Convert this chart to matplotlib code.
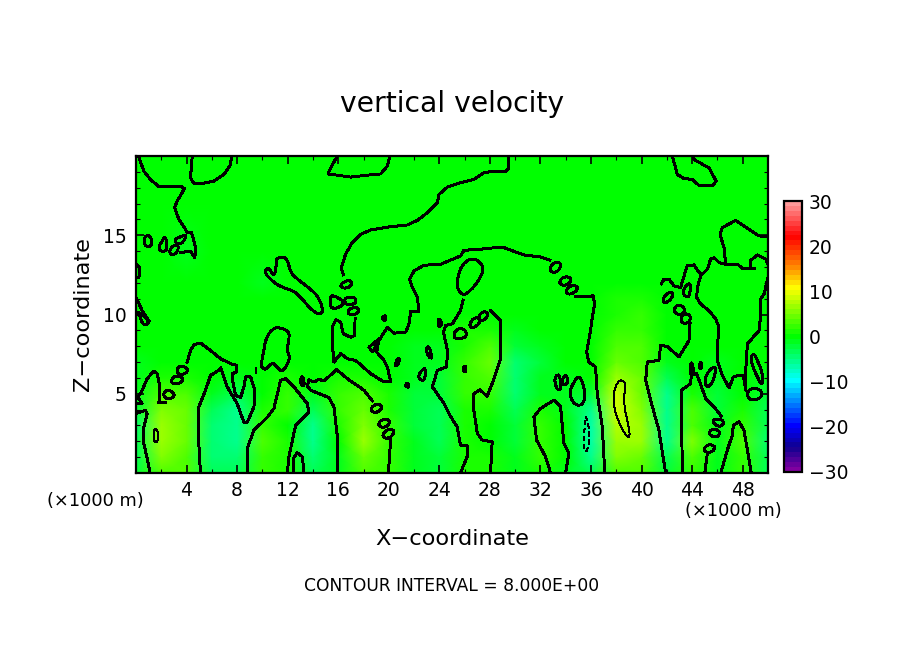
import numpy as np
import matplotlib
matplotlib.use("Agg")
import matplotlib.pyplot as plt
from matplotlib.colors import LinearSegmentedColormap, BoundaryNorm
from matplotlib.patches import PathPatch
from matplotlib.path import Path

# Field values (m/s)
x_km = [0, 2, 4, 6, 8, 10, 12, 14, 16, 18, 20, 22, 24, 26, 28, 30, 32, 34, 36, 38, 40, 42, 44, 46, 48, 50]
z_km = [0, 1, 2, 3, 4, 5, 6, 7, 8, 9, 10, 11, 12, 14, 17, 20]
w_field = [
    [-2, 3, 3, -3, -3, 2, 1, -3, -1, 3, 2, -1, -2, 1, 1, -1, 1, -1, -3, 3, 3, -2, 2, -1, 2, -3],
    [-3, 5, 3, -4, -4, 2.5, 1.5, -4, -1, 4, 2.5, -1, -2.5, 1.5, 1, -1.5, 2, 0, -6, 5, 4, -3.5, 3.5, -1, 2.5, -3],
    [-3.5, 7, 4, -4, -5.5, 3, 1, -6, 0.5, 6, 2.5, -1.5, -3, 1.5, 0.5, -2, 2.5, 0.5, -7, 6, 6, -5, 5, -1, 3, -4],
    [-4, 7, 4, -4, -6, 2.5, 0.5, -5, 1, 5.5, 2, -2, -3.5, 1, 0.5, -2.5, 2, 0, -7, 7.5, 6.5, -5.5, 3.5, -1.5, 2.5, -3.5],
    [-2, 5, 4, -3, -5.5, 1.5, 2, -3.5, 2, 4, 1.5, -2.5, -3.5, 1.5, 1, -3, 1, -1, -5, 9, 5.5, -6, 3, -2, 1.5, -3],
    [-1, 3.5, 3, -1.5, -3.5, 0.5, 2, -1, 2.5, 3, 1, -2, -2.5, 2, 2, -4, -1, -1.5, -2, 9, 4.5, -5, 1.5, -2, 0.5, -2],
    [-1, 1, 1.5, -0.5, -1.5, 0, 1, -0.5, 1.5, 1.5, 0.5, -1.5, -2, 2.5, 3.5, -4.5, -1.5, -1, -0.5, 6.5, 4, -3, 0.5, -1.5, -0.5, -1],
    [-1, 0, 0.5, 0, -0.5, 0, 0.5, 0, 0.5, 0.5, 0, -1.5, -1.5, 2, 4, -4, -2, -0.5, 0, 4, 3.5, -1.5, 0, -1, -0.5, -0.5],
    [-0.5, -0.5, 0, 0, 0, 0, 0.5, 0, 0, 0, -0.5, -1, -1, 1.5, 3, -2.5, -1.5, 0, 0, 3, 3, -0.5, 0, -0.5, -0.5, -0.5],
    [-0.5, 0, 0, 0, 0, 0, 0, 0, 0, 0, 0, -0.5, -0.5, 1, 1.5, -1, -0.5, 0, 0, 2.5, 2.5, 0.5, 0, 0, 0, 0],
    [0, 0, 0, 0, 0, 0, 0, 0, 0, 0, 0, 0, 0, 0, 0.5, 0, 0, 0, 0, 1.5, 2, 0.5, 0, 0, 0, 0],
    [0, 0, 0, 0, 0, 0, 0, 0, 0, 0, 0, 0, 0, 0, 0, 0, 0, 0, 0, 1, 1.5, 0.5, 0, 0, 0, 0],
    [0, 0, 0, 0, 0, -1.2, 0, 0, 0, 0, 0, 0, 0, 0, 0, 0, 0, 0, 0, 0, 0.5, 0, 0, 0, 0, 0],
    [0, 0, -0.9, 0, 0, 0, 0, 0, 0, 0, 0, 0, 0, 0, 0, 0, 0, 0, 0, 0, 0, 0, 0, 0, 0, 0],
    [0, 0, 0, 0, 0, 0, 0, 0, 0, 0, 0, 0, 0, 0, 0, 0, 0, 0, 0, 0, 0, 0, 0, 0, 0, 0],
    [0, 0, 0, 0, 0, 0, 0, 0, 0, 0, 0, 0, 0, 0, 0, 0, 0, 0, 0, 0, 0, 0, 0, 0, 0, 0],
]

# Zero contour, open pieces (x km, z km)
zero_open = [
    [(0.2, 20), (0.62, 19.04), (1.15, 18.52), (1.81, 18.06), (3.52, 18.1), (3.84, 17.95), (3.26, 17.16), (3.05, 16.74),
     (3.39, 16.0), (3.92, 15.37), (4.05, 15.16), (4.39, 15.2), (4.71, 14.22), (4.66, 13.59), (4.31, 14.0), (3.52, 13.9)],
    [(4.45, 20), (4.31, 18.62), (4.58, 18.27), (5.11, 18.25), (6.16, 18.41), (6.95, 18.83), (7.48, 19.46), (7.56, 20)],
    [(15.93, 20), (15.4, 19.25), (15.2, 18.87), (15.93, 18.79), (16.98, 18.67), (18.3, 18.79), (19.36, 18.87), (19.88, 19.36), (20.1, 20)],
    [(16.4, 12.5), (16.24, 12.96), (16.58, 13.8), (17.11, 14.54), (17.77, 15.06), (18.56, 15.33), (20.15, 15.54), (21.47, 15.65),
     (22.26, 15.94), (23.05, 16.42), (23.84, 17.05), (23.98, 17.58), (24.64, 18.04), (25.67, 18.31), (26.73, 18.52), (27.52, 18.94),
     (28.31, 19.04), (29.23, 19.0), (29.5, 19.25), (29.5, 20)],
    [(42.43, 20), (42.83, 18.83), (43.35, 18.58), (44.01, 18.52), (44.54, 18.14), (45.6, 18.14), (45.91, 18.41), (45.33, 19.25), (44.14, 19.78), (44.14, 20)],
    # centre dome, joined to the level 5-10 line
    [(17.33, 9.73), (17.3, 8.68), (16.98, 8.57), (16.4, 8.78), (16.19, 9.52), (15.8, 9.66), (15.53, 9.2), (15.53, 8.15), (15.66, 7.0),
     (16.19, 7.53), (16.72, 7.21), (17.38, 7.1), (18.56, 6.27), (19.62, 5.74), (20.15, 5.79), (19.88, 6.69), (19.62, 7.1), (19.04, 7.63),
     (19.23, 8.47), (18.43, 7.94), (18.7, 7.63), (19.23, 8.36), (19.88, 9.2), (20.41, 8.82), (21.34, 8.89), (21.6, 9.41), (21.73, 10.19),
     (22.39, 10.19), (22.26, 11.08), (21.87, 11.71), (21.65, 12.23), (22.0, 12.75), (22.79, 13.11), (24.1, 13.17), (25.69, 13.7),
     (25.94, 14.05), (27.25, 14.12), (28.97, 14.26), (30.16, 13.91), (30.69, 13.76), (32.0, 13.63), (32.74, 13.43)],
    [(34.78, 11.12), (35.57, 11.12), (36.17, 11.18), (36.28, 10.66), (36.1, 9.82), (35.96, 8.99), (35.65, 7.63), (35.83, 7.0), (36.36, 6.69),
     (36.49, 5.01), (36.89, 2.91), (37.02, 1.03), (37.07, 0)],
    [(41.56, 11.92), (41.77, 12.23), (42.17, 12.23), (42.56, 11.81), (43.09, 11.71), (43.48, 12.75), (43.62, 13.07), (44.14, 13.13),
     (44.54, 12.65), (44.8, 12.54), (45.2, 12.86), (45.46, 13.49), (45.73, 13.59), (46.12, 13.28), (46.65, 13.17), (47.58, 13.17),
     (47.97, 12.92), (48.9, 12.92)],
    [(46.65, 13.17), (46.52, 14.22), (46.2, 15.06), (46.39, 15.48), (47.44, 15.94), (48.11, 15.58), (49.29, 14.96), (50, 14.89)],
    [(48.63, 12.96), (48.58, 13.38), (49.16, 13.76), (49.82, 13.49), (50, 13.17)],
    [(50, 12.34), (49.69, 11.29), (49.42, 10.97), (49.42, 9.94), (49.29, 8.99), (48.37, 8.15), (48.24, 6.48), (48.24, 5.22), (48.05, 6.16),
     (47.71, 6.16), (47.26, 6.06), (46.92, 5.37), (46.39, 6.16), (45.99, 7.1), (45.99, 7.94), (46.12, 9.2), (45.86, 9.72), (45.33, 10.24),
     (44.67, 10.66), (44.36, 11.08), (44.41, 11.71), (44.67, 12.44)],
    [(25.88, 10.91), (25.67, 10.24), (25.03, 9.41), (24.5, 9.31), (24.32, 8.89), (24.64, 7.73), (24.58, 6.69), (23.84, 6.48), (23.45, 5.43),
     (24.37, 4.38), (24.88, 3.58), (25.41, 2.91), (25.67, 1.76), (26.2, 1.72), (26.2, 1.03), (25.67, 0)],
    [(28.05, 10.24), (28.84, 9.62), (28.84, 7.21), (28.18, 5.64), (27.78, 4.84), (27.2, 5.26), (26.73, 5.0), (26.67, 4.28), (27.0, 2.5),
     (27.39, 2.08), (28.18, 1.97), (28.05, 0)],
    [(32.8, 0), (32.4, 1.03), (31.69, 2.08), (31.48, 3.54), (32.0, 4.07), (33.06, 4.59), (33.59, 4.17), (33.85, 1.87), (34.25, 1.24), (33.98, 0)],
    [(41.9, 0), (41.37, 2.7), (40.71, 4.59), (40.32, 5.85), (40.45, 7.0), (41.37, 7.11), (41.51, 8.05), (42.03, 7.99), (42.96, 7.32), (43.75, 8.36), (43.83, 9.41)],
    [(43.22, 0), (43.14, 5.22), (43.88, 5.64), (43.93, 6.16), (44.36, 6.27), (45.07, 4.7), (45.73, 4.17), (46.31, 3.58)],
    [(45.0, 0), (45.2, 1.24)],
    [(46.26, 0), (46.78, 1.45), (47.18, 2.39), (47.26, 3.02), (47.71, 3.23), (48.1, 2.7), (48.37, 1.45), (48.68, 0)],
    [(0, 3.75), (0.75, 3.96), (0.88, 3.75), (0.62, 2.91), (0.62, 1.87), (1.02, 0.4), (1.1, 0)],
    [(2.34, 4.42), (1.81, 4.42), (1.89, 5.43), (1.68, 6.27), (1.41, 6.43), (0.88, 5.95), (0.49, 5.22), (0.15, 4.76), (0.49, 4.38), (0, 4.38)],
    [(0, 11.08), (0.49, 10.24), (1.02, 9.6)],
    [(0, 13.17), (0.3, 12.96), (0.23, 12.33), (0, 12.33)],
    [(4.05, 7.0), (4.31, 7.73), (4.58, 8.09), (5.11, 8.2), (5.9, 7.73), (6.69, 7.21), (7.48, 6.9), (7.96, 6.79), (7.96, 6.37), (7.61, 6.27),
     (7.61, 5.95), (7.87, 4.9), (8.27, 4.76), (8.54, 5.43), (8.67, 6.06), (9.07, 6.06), (9.41, 5.22), (9.33, 4.17), (8.8, 3.19), (8.54, 3.19),
     (8.0, 4.38), (7.22, 5.43), (6.69, 6.64), (6.55, 6.48), (5.9, 6.16), (5.5, 5.22), (4.97, 4.17), (4.97, 1.87), (5.1, 0)],
    [(8.8, 0), (8.85, 1.66), (9.33, 2.7), (10.37, 3.5), (10.91, 4.07), (11.44, 5.85), (11.84, 5.95), (12.5, 5.43), (13.55, 4.38), (13.68, 3.86),
     (13.02, 3.33), (12.63, 3.02), (12.1, 1.03), (11.97, 0)],
    [(12.5, 0), (12.44, 0.92), (12.76, 1.28), (13.16, 1.03), (13.29, 0)],
    [(15.93, 0), (15.93, 2.29), (15.66, 4.17), (15.27, 4.76), (13.82, 5.22), (13.55, 5.47), (13.68, 5.89), (14.08, 5.74), (14.47, 5.91),
     (14.87, 5.81), (15.87, 6.52), (16.72, 5.95), (18.04, 5.22), (18.7, 4.55)],
    [(20.15, 2.18), (20.02, 0.61), (19.94, 0)],
    [(9.46, 6.64), (9.46, 6.3)],
]

# Zero contour, small closed loops
zero_loops = [
    [(0.62, 14.75), (0.83, 15.0), (1.15, 14.95), (1.28, 14.54), (1.15, 14.26), (0.67, 14.33)],
    [(1.81, 14.33), (2.07, 14.6), (2.28, 14.95), (2.47, 14.54), (2.42, 14.0), (1.89, 13.97)],
    [(2.68, 14.12), (3.0, 14.39), (3.39, 14.37), (3.26, 13.9), (2.94, 13.76), (2.68, 13.84)],
    [(3.07, 14.75), (3.65, 14.95), (4.0, 15.02), (3.79, 14.6), (3.39, 14.43), (3.13, 14.54)],
    [(10.25, 12.86), (10.52, 12.96), (10.91, 12.38), (11.12, 13.07), (11.04, 13.49), (11.57, 13.66), (11.97, 13.49), (12.23, 12.65),
     (12.76, 12.23), (13.82, 11.6), (14.47, 11.08), (14.82, 10.24), (14.61, 10.03), (14.08, 10.13), (13.02, 11.08), (12.5, 11.5),
     (11.57, 11.71), (10.91, 12.02), (10.52, 12.35), (10.25, 12.54)],
    [(16.19, 11.87), (16.45, 12.08), (17.03, 12.17), (17.09, 11.81), (16.59, 11.64), (16.24, 11.71)],
    [(15.4, 11.25), (15.93, 11.08), (16.45, 10.83), (16.32, 10.55), (15.66, 10.34), (15.32, 10.55)],
    [(16.51, 11.04), (17.25, 11.14), (17.43, 10.87), (17.3, 10.66), (16.72, 10.6), (16.51, 10.76)],
    [(16.77, 10.24), (17.11, 10.45), (17.56, 10.45), (17.64, 10.13), (17.25, 9.97), (16.77, 10.03)],
    [(25.41, 11.92), (25.54, 12.75), (26.07, 13.38), (26.73, 13.55), (27.25, 13.28), (27.52, 12.86), (27.12, 12.13), (26.46, 11.5), (25.88, 11.18), (25.46, 11.6)],
    [(32.72, 12.8), (32.93, 13.22), (33.46, 13.34), (33.64, 13.07), (33.38, 12.71), (32.93, 12.65)],
    [(33.46, 12.08), (33.85, 12.4), (34.38, 12.34), (34.43, 12.08), (33.98, 11.81), (33.64, 11.87)],
    [(33.98, 11.5), (34.38, 11.85), (34.86, 11.81), (34.96, 11.6), (34.51, 11.29), (34.12, 11.29)],
    [(43.2, 11.5), (43.88, 12.13), (43.83, 11.18), (43.48, 11.08)],
    [(41.69, 10.97), (42.03, 11.39), (42.51, 11.39), (42.43, 11.08), (42.03, 10.76), (41.72, 10.76)],
    [(42.51, 10.28), (42.82, 10.62), (43.22, 10.55), (43.48, 10.24), (43.09, 9.97), (42.77, 10.03)],
    [(43.09, 9.83), (43.48, 10.08), (43.88, 9.94), (43.83, 9.58), (43.48, 9.41), (43.14, 9.52)],
    [(25.14, 8.78), (25.41, 9.1), (25.94, 9.1), (26.2, 8.78), (25.94, 8.47), (25.2, 8.47)],
    [(26.38, 9.41), (26.73, 9.79), (27.12, 9.79), (27.25, 9.52), (26.78, 9.16), (26.46, 9.2)],
    [(27.04, 9.79), (27.39, 10.19), (27.84, 10.15), (27.84, 9.87), (27.39, 9.56)],
    [(25.86, 6.48), (25.99, 6.85), (26.15, 6.52), (25.99, 6.33)],
    [(33.11, 5.95), (33.38, 6.27), (33.59, 5.95), (33.64, 5.32), (33.38, 5.22), (33.19, 5.53)],
    [(33.72, 5.95), (33.98, 6.2), (34.17, 5.95), (34.12, 5.6), (33.8, 5.53)],
    [(34.33, 5.22), (34.64, 5.74), (35.04, 6.16), (35.44, 5.53), (35.51, 4.7), (35.3, 4.28), (34.78, 4.28), (34.38, 4.7)],
    [(43.78, 6.27), (43.93, 7.1), (44.14, 6.48), (44.04, 6.16)],
    [(44.54, 6.58), (44.67, 7.17), (44.8, 6.58)],
    [(44.99, 5.95), (45.34, 6.48), (45.86, 6.75), (45.86, 6.27), (45.46, 5.47), (45.07, 5.47)],
    [(45.6, 3.23), (45.86, 3.44), (46.47, 3.33), (46.47, 3.02), (46.0, 2.91)],
    [(45.28, 2.5), (45.6, 2.81), (46.12, 2.7), (46.2, 2.39), (45.73, 2.22)],
    [(44.86, 1.45), (45.2, 1.8), (45.73, 1.76), (45.81, 1.49), (45.33, 1.24)],
    [(48.63, 7.32), (48.9, 7.57), (49.16, 7.1), (49.61, 6.27), (49.55, 5.43), (49.03, 6.27), (48.71, 6.9)],
    [(48.31, 5.1), (48.76, 5.37), (49.42, 5.28), (49.55, 4.84), (49.03, 4.59), (48.5, 4.63)],
    [(0.09, 10.15), (0.49, 10.04), (1.02, 9.62), (0.88, 9.31), (0.49, 9.41), (0.36, 9.83)],
    [(2.15, 5.01), (2.47, 5.26), (2.94, 5.11), (3.07, 4.84), (2.6, 4.65), (2.28, 4.76)],
    [(2.78, 5.89), (3.13, 6.16), (3.65, 6.06), (3.73, 5.81), (3.26, 5.6), (2.86, 5.64)],
    [(3.21, 6.52), (3.52, 6.79), (4.05, 6.64), (4.1, 6.37), (3.65, 6.2), (3.31, 6.27)],
    [(9.85, 6.69), (10.12, 7.73), (10.25, 8.47), (10.78, 9.1), (11.31, 9.2), (11.97, 8.99), (12.18, 8.68), (11.92, 7.73), (12.23, 7.21),
     (11.57, 6.31), (11.18, 6.69), (10.78, 7.0), (10.25, 6.48)],
    [(12.97, 5.74), (13.15, 6.23), (13.34, 5.64), (13.23, 5.43)],
    [(18.57, 4.0), (18.83, 4.32), (19.36, 4.34), (19.49, 4.07), (19.04, 3.79), (18.7, 3.86)],
    [(19.15, 3.12), (19.49, 3.4), (20.02, 3.38), (20.1, 3.12), (19.67, 2.85), (19.3, 2.91)],
    [(19.49, 2.39), (19.83, 2.75), (20.36, 2.75), (20.41, 2.49), (20.02, 2.18), (19.62, 2.22)],
    [(19.49, 9.87), (19.75, 9.94), (19.8, 9.66), (19.54, 9.62)],
    [(20.49, 6.79), (20.68, 7.25), (20.89, 7.21), (20.68, 6.73)],
    [(22.92, 7.84), (23.18, 8.05), (23.45, 7.21), (23.13, 7.32)],
    [(22.31, 6.16), (22.79, 6.64), (22.92, 6.48), (22.84, 5.81), (22.47, 5.89)],
    [(21.28, 5.53), (21.47, 5.7), (21.6, 5.47), (21.47, 5.39)],
    [(23.9, 9.7), (24.1, 9.7), (24.2, 9.3), (23.9, 9.2)],
]

# +8 and -8 contours
plus8_loops = [
    [(37.76, 5.01), (38.07, 5.74), (38.47, 5.89), (38.74, 5.64), (38.55, 4.38), (39.0, 2.91), (39.08, 2.24), (38.74, 2.33), (38.07, 3.44), (37.81, 4.17)],
    [(1.41, 2.81), (1.73, 2.7), (1.78, 2.18), (1.57, 1.87), (1.41, 2.07)],
]
minus8_loop = [(35.57, 3.65), (35.83, 2.91), (35.91, 2.08), (35.65, 1.28), (35.44, 1.45), (35.44, 2.5), (35.57, 3.33)]

x_ticks = list(range(4, 49, 4))
z_ticks = [5, 10, 15]
bar_ticks = [-30, -20, -10, 0, 10, 20, 30]


def round_loop(points):
    # rounded closed outline: each traced point acts as a bezier control point
    pts = np.array(points)
    mids = (pts + np.roll(pts, -1, axis=0)) / 2
    verts = [mids[-1]]
    codes = [Path.MOVETO]
    for p, m in zip(pts, mids):
        verts += [p, m]
        codes += [Path.CURVE3, Path.CURVE3]
    return Path(verts, codes)


W, H = 904, 654
fig = plt.figure(figsize=(W / 100, H / 100), dpi=100)
ax = fig.add_axes([136 / W, 1 - 473 / H, 632 / W, 317 / H])
cax = fig.add_axes([784 / W, 1 - 472 / H, 18 / W, 271 / H])

stops = [(0.0, "#8000a0"), (5 / 60, "#100090"), (10 / 60, "#0000ff"), (15 / 60, "#0080ff"), (20 / 60, "#00ffff"),
         (30 / 60, "#00ff00"), (41 / 60, "#ffff00"), (46 / 60, "#ff8000"), (52.5 / 60, "#ff0000"), (1.0, "#ff9a9a")]
cmap = LinearSegmentedColormap.from_list("ncl_like", stops, N=55)
norm = BoundaryNorm(np.linspace(-30, 30, 56), cmap.N)

mesh = ax.pcolormesh(x_km, z_km, w_field, shading="gouraud", cmap=cmap, norm=norm)

for seg in zero_open:
    seg = np.array(seg)
    ax.plot(seg[:, 0], seg[:, 1], color="k", lw=1.4, antialiased=False, solid_joinstyle="round")
for loop in zero_loops:
    ax.add_patch(PathPatch(round_loop(loop), fill=False, ec="k", lw=1.4, antialiased=False))
for loop in plus8_loops:
    ax.add_patch(PathPatch(round_loop(loop), fill=False, ec="k", lw=0.7, antialiased=False))
ax.add_patch(PathPatch(round_loop(minus8_loop), fill=False, ec="k", lw=0.7, ls=(0, (5, 4)), antialiased=False))

ax.set_xlim(0, 50)
ax.set_ylim(0, 20)
ax.set_xticks(x_ticks)
ax.set_xticks(range(2, 50, 4), minor=True)
ax.set_yticks(z_ticks)
ax.set_yticks([z for z in range(1, 20) if z % 5], minor=True)
ax.tick_params(which="major", direction="in", top=True, right=True, length=6, width=1.2, labelsize=13.5)
ax.tick_params(which="minor", direction="in", top=True, right=True, length=3, width=0.8)
ax.tick_params(axis="x", which="major", pad=6)
ax.tick_params(axis="y", which="major", pad=7)
for side in ax.spines.values():
    side.set_linewidth(1.6)

cb = fig.colorbar(mesh, cax=cax, ticks=bar_ticks, spacing="proportional")
cb.ax.minorticks_off()
cb.ax.tick_params(length=0, labelsize=13.5, pad=5)
cb.outline.set_linewidth(1.6)

fig.text(452 / W, 1 - 104 / H, "vertical velocity", fontsize=20.3, ha="center", va="center")
fig.text(452 / W, 1 - 539 / H, "X\u2212coordinate", fontsize=16.2, ha="center", va="center")
fig.text(83 / W, 1 - 314 / H, "Z\u2212coordinate", fontsize=16.2, rotation=90, ha="center", va="center")
fig.text(95 / W, 1 - 501 / H, "(\u00d71000 m)", fontsize=12.8, ha="center", va="center")
fig.text(733 / W, 1 - 511 / H, "(\u00d71000 m)", fontsize=12.8, ha="center", va="center")
fig.text(452 / W, 1 - 586 / H, "CONTOUR INTERVAL = 8.000E+00", fontsize=12.3, ha="center", va="center")

fig.savefig("out.png", dpi=100)
